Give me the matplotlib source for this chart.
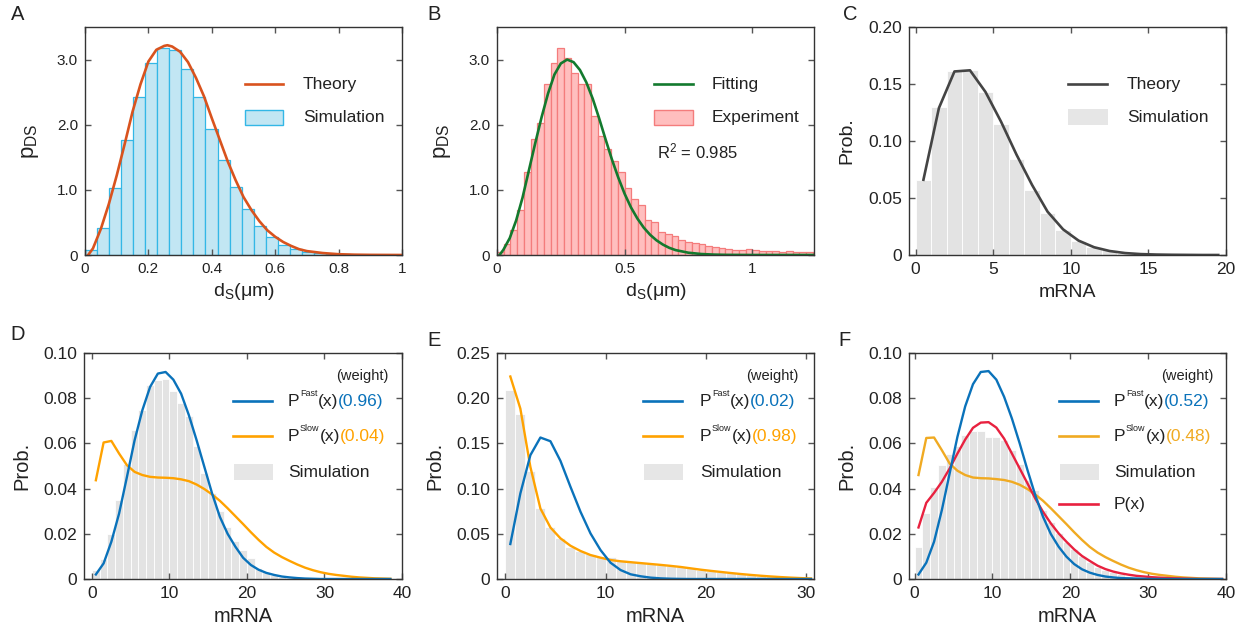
import numpy as np
import matplotlib
matplotlib.use('Agg')
import matplotlib.pyplot as plt
from matplotlib.patches import Rectangle

plt.rcParams['font.family'] = ['Liberation Sans', 'DejaVu Sans']
plt.rcParams['mathtext.fontset'] = 'custom'
plt.rcParams['mathtext.rm'] = 'Liberation Sans'
plt.rcParams['mathtext.default'] = 'regular'

# ---- panel A: distance distribution, simulation vs theory
a_bin_width = 0.038
a_sim = [0.08, 0.42, 1.03, 1.77, 2.43, 2.94, 3.17, 3.15, 2.85, 2.43, 1.94, 1.46,
         1.04, 0.70, 0.45, 0.27, 0.16, 0.09, 0.05, 0.025, 0.015, 0.008, 0.004]
a_theory_x = [0.01, 0.025, 0.05, 0.075, 0.1, 0.125, 0.15, 0.175, 0.2, 0.225, 0.25, 0.26,
              0.275, 0.3, 0.325, 0.35, 0.375, 0.4, 0.425, 0.45, 0.475, 0.5, 0.525, 0.55,
              0.575, 0.6, 0.625, 0.65, 0.675, 0.7, 0.75, 0.8, 0.85, 0.9, 1.0]
a_theory_y = [0.0, 0.10, 0.40, 0.78, 1.22, 1.70, 2.20, 2.62, 2.97, 3.15, 3.21, 3.22,
              3.20, 3.12, 2.96, 2.72, 2.44, 2.10, 1.77, 1.44, 1.15, 0.89, 0.69, 0.52,
              0.38, 0.28, 0.20, 0.14, 0.09, 0.06, 0.03, 0.012, 0.005, 0.002, 0.0]

# ---- panel B: experiment vs fitting
b_bin_width = 0.5 / 19
b_exp = [0.05, 0.17, 0.385, 0.69, 1.27, 1.78, 2.03, 2.62, 2.94, 3.17, 3.03, 2.80,
         2.62, 2.62, 2.14, 1.82, 1.62, 1.44, 1.28, 1.03, 0.86, 0.77, 0.54, 0.51,
         0.36, 0.33, 0.29, 0.23, 0.205, 0.18, 0.164, 0.14, 0.128, 0.10, 0.097, 0.077,
         0.077, 0.09, 0.077, 0.056, 0.056, 0.06, 0.05, 0.056, 0.046, 0.046, 0.046, 0.04]
b_fit_x = [0.01, 0.025, 0.05, 0.075, 0.1, 0.125, 0.15, 0.175, 0.2, 0.225, 0.25, 0.275,
           0.3, 0.325, 0.35, 0.375, 0.4, 0.425, 0.45, 0.475, 0.5, 0.525, 0.55, 0.575,
           0.6, 0.625, 0.65, 0.675, 0.7, 0.75, 0.8, 0.85, 0.9, 1.0, 1.24]
b_fit_y = [0.0, 0.08, 0.26, 0.53, 0.88, 1.30, 1.72, 2.12, 2.48, 2.77, 2.94, 3.0,
           2.96, 2.84, 2.65, 2.40, 2.10, 1.78, 1.47, 1.19, 0.94, 0.73, 0.56, 0.42,
           0.31, 0.225, 0.16, 0.11, 0.075, 0.035, 0.015, 0.006, 0.002, 0.0, 0.0]

# ---- panel C: mRNA, one state
c_sim = [0.066, 0.130, 0.161, 0.162, 0.143, 0.115, 0.084, 0.057, 0.037, 0.022,
         0.0126, 0.0073, 0.004, 0.002, 0.001, 0.0005, 0.0002, 0.0001, 0.0, 0.0]
c_theory = [0.066, 0.129, 0.161, 0.162, 0.143, 0.117, 0.088, 0.0615, 0.038, 0.0225,
            0.0126, 0.0068, 0.0035, 0.0017, 0.0008, 0.0004, 0.0002, 0.0001, 0.0, 0.0]

# ---- panel D
d_sim = [0.004, 0.0088, 0.020, 0.035, 0.051, 0.066, 0.075, 0.086, 0.088, 0.0887,
         0.083, 0.078, 0.072, 0.059, 0.047, 0.038, 0.030, 0.023, 0.017, 0.0128,
         0.0091, 0.0050, 0.0030, 0.0018, 0.001, 0.0006, 0.0003, 0.0002, 0.0001]
d_fast = [0.002, 0.0069, 0.0165, 0.029, 0.045, 0.0614, 0.0747, 0.085, 0.0909, 0.0916,
          0.0882, 0.082, 0.0725, 0.0614, 0.0496, 0.0378, 0.0275, 0.020, 0.0143, 0.0094,
          0.0062, 0.0041, 0.0027, 0.0018, 0.0011, 0.0007, 0.0004, 0.0002, 0.0001, 0.0,
          0.0, 0.0, 0.0, 0.0, 0.0, 0.0, 0.0, 0.0, 0.0]
d_slow = [0.0437, 0.0604, 0.0611, 0.0555, 0.0504, 0.0474, 0.046, 0.0452, 0.0449, 0.0448,
          0.0446, 0.0441, 0.0433, 0.0418, 0.0398, 0.0374, 0.0346, 0.0313, 0.0278, 0.0243,
          0.0207, 0.0173, 0.0142, 0.0117, 0.0097, 0.0080, 0.0064, 0.0050, 0.0039, 0.0030,
          0.0023, 0.0018, 0.0014, 0.0010, 0.0007, 0.0005, 0.0003, 0.0002, 0.0001]
d_weights = ['(0.96)', '(0.04)']

# ---- panel E
e_sim = [0.209, 0.182, 0.120, 0.078, 0.057, 0.0457, 0.0357, 0.0313, 0.0276, 0.0247,
         0.024, 0.021, 0.019, 0.018, 0.017, 0.016, 0.0145, 0.013, 0.0118, 0.0103,
         0.009, 0.0078, 0.0066, 0.0055, 0.0045, 0.0036, 0.0028, 0.0021, 0.0015, 0.001,
         0.0006]
e_fast = [0.0387, 0.0946, 0.137, 0.1565, 0.1524, 0.1307, 0.102, 0.0744, 0.0504, 0.032,
          0.018, 0.0099, 0.0052, 0.003, 0.0015, 0.0007, 0.0003, 0.0001, 0.0, 0.0,
          0.0, 0.0, 0.0, 0.0, 0.0, 0.0, 0.0, 0.0, 0.0, 0.0, 0.0]
e_slow = [0.224, 0.1885, 0.124, 0.078, 0.057, 0.045, 0.0368, 0.031, 0.0265, 0.0236,
          0.021, 0.0196, 0.0186, 0.0176, 0.0166, 0.0156, 0.0145, 0.0133, 0.0118, 0.0103,
          0.009, 0.0078, 0.0066, 0.0055, 0.0045, 0.0036, 0.0028, 0.0021, 0.0015, 0.001,
          0.0006]
e_weights = ['(0.02)', '(0.98)']

# ---- panel F
f_sim = [0.0143, 0.029, 0.0407, 0.0503, 0.0554, 0.059, 0.0635, 0.0654, 0.0654, 0.063,
         0.0628, 0.0613, 0.057, 0.051, 0.0437, 0.0393, 0.0304, 0.0253, 0.0204, 0.0165,
         0.0131, 0.0101, 0.0075, 0.0055, 0.004, 0.003, 0.002, 0.0015, 0.001, 0.0006,
         0.0004, 0.0002, 0.0001]
f_fast = [0.002, 0.0072, 0.0165, 0.0305, 0.0467, 0.0629, 0.0764, 0.0862, 0.0916, 0.092,
          0.0882, 0.0806, 0.071, 0.06, 0.0482, 0.0371, 0.0275, 0.0199, 0.0143, 0.0099,
          0.0066, 0.0043, 0.0028, 0.0018, 0.0011, 0.0007, 0.0004, 0.0003, 0.0002, 0.0001,
          0.0, 0.0, 0.0, 0.0, 0.0, 0.0, 0.0, 0.0, 0.0, 0.0]
f_slow = [0.046, 0.0624, 0.0626, 0.057, 0.0511, 0.0479, 0.046, 0.0449, 0.0446, 0.0445,
          0.0442, 0.0438, 0.0430, 0.0417, 0.0398, 0.0374, 0.0346, 0.0313, 0.0278, 0.0243,
          0.0207, 0.0173, 0.0142, 0.0117, 0.0097, 0.0080, 0.0064, 0.0050, 0.0039, 0.0030,
          0.0023, 0.0018, 0.0014, 0.0010, 0.0007, 0.0005, 0.0003, 0.0002, 0.0001, 0.0]
f_total = [0.0228, 0.0337, 0.0381, 0.043, 0.0489, 0.0555, 0.0617, 0.0669, 0.0692, 0.0694,
           0.067, 0.0621, 0.0555, 0.0489, 0.0423, 0.0356, 0.0297, 0.0246, 0.0202, 0.0165,
           0.0131, 0.0102, 0.008, 0.0059, 0.0044, 0.0033, 0.0025, 0.0019, 0.0014, 0.0011,
           0.0008, 0.0006, 0.0004, 0.0003, 0.0002, 0.0001, 0.0, 0.0, 0.0, 0.0]
f_weights = ['(0.52)', '(0.48)']

# tick labels
a_xticks = [0, 0.2, 0.4, 0.6, 0.8, 1]
a_xlabels = ['0', '0.2', '0.4', '0.6', '0.8', '1']
ds_yticks = [0, 1, 2, 3]
ds_ylabels = ['0', '1.0', '2.0', '3.0']
b_xticks = [0, 0.5, 1]
b_xlabels = ['0', '0.5', '1']
c_xticks = [0, 5, 10, 15, 20]
c_yticks = [0, 0.05, 0.10, 0.15, 0.20]
c_ylabels = ['0', '0.05', '0.10', '0.15', '0.20']
df_xticks = [0, 10, 20, 30, 40]
df_yticks = [0, 0.02, 0.04, 0.06, 0.08, 0.10]
df_ylabels = ['0', '0.02', '0.04', '0.06', '0.08', '0.10']
e_xticks = [0, 10, 20, 30]
e_yticks = [0, 0.05, 0.10, 0.15, 0.20, 0.25]
e_ylabels = ['0', '0.05', '0.10', '0.15', '0.20', '0.25']

BLUE = '#0A72BA'
ORANGE = '#FFA200'
ORANGE_F = '#F0AA22'
RED = '#E8213F'
GRAY_BAR = '#E3E3E3'
TXT = '#222222'

W, H = 1248, 629
fig = plt.figure(figsize=(W / 100, H / 100), dpi=100)

# axes boxes in pixels: left, top, right, bottom
boxes = {
    'A': (85, 27, 402, 255),
    'B': (497, 27, 814, 255),
    'C': (909, 27, 1226, 255),
    'D': (84, 353, 402, 579),
    'E': (497, 353, 814, 579),
    'F': (909, 353, 1226, 579),
}


def make_ax(key, ticksize):
    l, t, r, b = boxes[key]
    ax = fig.add_axes([l / W, 1 - b / H, (r - l) / W, (b - t) / H])
    ax.tick_params(direction='in', top=True, right=True, length=4.5, width=1,
                   color='#555555', labelcolor=TXT, labelsize=ticksize, pad=5)
    for s in ax.spines.values():
        s.set_color('#333333')
        s.set_linewidth(1.0)
        s.set_zorder(5)
    return ax


def frac(key, x, y):
    l, t, r, b = boxes[key]
    return (x - l) / (r - l), (b - y) / (b - t)


def leg_line(ax, key, x0, x1, y, color):
    fx0, fy = frac(key, x0, y)
    fx1, _ = frac(key, x1, y)
    ax.plot([fx0, fx1], [fy, fy], transform=ax.transAxes, color=color, lw=1.9,
            clip_on=False, zorder=6)


def leg_patch(ax, key, x0, x1, y0, y1, fc, ec):
    fx0, fy1 = frac(key, x0, y1)
    fx1, fy0 = frac(key, x1, y0)
    ax.add_patch(Rectangle((fx0, fy1), fx1 - fx0, fy0 - fy1, transform=ax.transAxes,
                           facecolor=fc, edgecolor=ec, lw=1.0, zorder=6))


def leg_text(ax, key, x, y, s, size=12.5):
    fx, fy = frac(key, x, y)
    return ax.text(fx, fy, s, transform=ax.transAxes, ha='left', va='center',
                   fontsize=size, color=TXT, zorder=6)


def sup_entry(ax, key, x, y, sup, wt, col, size=12.5):
    # "P" + tiny superscript + "(x)" + coloured weight
    t1 = leg_text(ax, key, x, y, 'P', size)
    t2 = ax.annotate(sup, xy=(1, 1), xycoords=t1, xytext=(0.3, 3.0),
                     textcoords='offset points', ha='left', va='top',
                     fontsize=6.5, color=TXT)
    t3 = ax.annotate('(x)', xy=(1, 0), xycoords=(t2, t1), ha='left', va='bottom',
                     fontsize=size, color=TXT)
    ax.annotate(wt, xy=(1, 0), xycoords=t3, ha='left', va='bottom',
                fontsize=size, color=col)


def panel_label(key, x, y):
    fig.text(x / W, 1 - y / H, key, fontsize=14.5, color=TXT, ha='center', va='center')


def labels(ax, xlab, ylab, xsize, ysize, xpos, ypos):
    ax.set_xlabel(xlab, fontsize=xsize, color=TXT)
    ax.set_ylabel(ylab, fontsize=ysize, color=TXT)
    ax.xaxis.set_label_coords(0.5, xpos)
    ax.yaxis.set_label_coords(ypos, 0.5)


# ---------------- A
ax = make_ax('A', 11)
a_edges = np.arange(len(a_sim)) * a_bin_width
ax.bar(a_edges, a_sim, width=a_bin_width, align='edge', color='#C2E6F3',
       edgecolor='#33B7E6', lw=0.9)
ax.plot(a_theory_x, a_theory_y, color='#D9531E', lw=1.9)
ax.set_xlim(0, 1)
ax.set_ylim(0, 3.5)
ax.set_xticks(a_xticks, a_xlabels)
ax.set_yticks(ds_yticks, ds_ylabels)
labels(ax, 'd$_{S}$(μm)', 'p$_{DS}$', 14, 16, -0.115, -0.14)
leg_line(ax, 'A', 245, 283, 84, '#D9531E')
leg_text(ax, 'A', 303, 84, 'Theory')
leg_patch(ax, 'A', 245, 283, 110, 125, '#C2E6F3', '#33B7E6')
leg_text(ax, 'A', 303, 117, 'Simulation')
panel_label('A', 18, 15)

# ---------------- B
ax = make_ax('B', 11)
b_edges = np.arange(len(b_exp)) * b_bin_width
ax.bar(b_edges, b_exp, width=b_bin_width, align='edge', color='#FFBEBE',
       edgecolor='#F47C7C', lw=0.9)
ax.plot(b_fit_x, b_fit_y, color='#137A2E', lw=1.9)
ax.set_xlim(0, 1.242)
ax.set_ylim(0, 3.5)
ax.set_xticks(b_xticks, b_xlabels)
ax.set_yticks(ds_yticks, ds_ylabels)
labels(ax, 'd$_{S}$(μm)', 'p$_{DS}$', 14, 16, -0.115, -0.14)
leg_line(ax, 'B', 654, 693, 84, '#137A2E')
leg_text(ax, 'B', 712, 84, 'Fitting')
leg_patch(ax, 'B', 654, 693, 110, 125, '#FFBEBE', '#F47C7C')
leg_text(ax, 'B', 712, 117, 'Experiment')
leg_text(ax, 'B', 657, 151, 'R$^{2}$ = 0.985', size=12)
panel_label('B', 434, 15)

# ---------------- C
ax = make_ax('C', 12.5)
c_x = np.arange(len(c_sim))
ax.bar(c_x, c_sim, width=1, align='edge', color=GRAY_BAR, edgecolor='white', lw=0.6)
ax.plot(c_x + 0.5, c_theory, color='#444444', lw=1.9)
ax.set_xlim(-0.43, 20)
ax.set_ylim(0, 0.2)
ax.set_xticks(c_xticks)
ax.set_yticks(c_yticks, c_ylabels)
labels(ax, 'mRNA', 'Prob.', 14, 14, -0.125, -0.17)
leg_line(ax, 'C', 1068, 1107, 84, '#444444')
leg_text(ax, 'C', 1127, 84, 'Theory')
leg_patch(ax, 'C', 1068, 1108, 109, 125, '#E6E6E6', 'none')
leg_text(ax, 'C', 1127, 117, 'Simulation')
panel_label('C', 850, 15)


def mrna_panel(key, sim, fast, slow, weights, xlim, yticks, ylabels, xticks,
               orange, leg_x0, leg_x1, txt_x, wt_x, total=None):
    ax = make_ax(key, 12.5)
    xs = np.arange(len(sim))
    ax.bar(xs, sim, width=1, align='edge', color=GRAY_BAR, edgecolor='white', lw=0.6)
    ax.plot(np.arange(len(slow)) + 0.5, slow, color=orange, lw=1.7, zorder=3)
    if total is not None:
        ax.plot(np.arange(len(total)) + 0.5, total, color=RED, lw=1.7, zorder=3)
    ax.plot(np.arange(len(fast)) + 0.5, fast, color=BLUE, lw=1.7, zorder=4)
    ax.set_xlim(*xlim)
    ax.set_ylim(yticks[0], yticks[-1])
    ax.set_xticks(xticks)
    ax.set_yticks(yticks, ylabels)
    labels(ax, 'mRNA', 'Prob.', 14.5, 14.5, -0.125, -0.165)

    fx, fy = frac(key, wt_x, 376)
    ax.text(fx, fy, '(weight)', transform=ax.transAxes, ha='right', va='center',
            fontsize=10.5, color=TXT)
    entries = [('Fast', BLUE, weights[0], 401), ('Slow', orange, weights[1], 436)]
    for sup, col, wt, y in entries:
        leg_line(ax, key, leg_x0, leg_x1, y, col)
        sup_entry(ax, key, txt_x, y, sup, wt, col)
    leg_patch(ax, key, leg_x0 + 1, leg_x1 + 1, 464, 480, '#E6E6E6', 'none')
    leg_text(ax, key, txt_x, 472, 'Simulation')
    if total is not None:
        leg_line(ax, key, leg_x0, leg_x1, 504, RED)
        leg_text(ax, key, txt_x, 504, 'P(x)')
    return ax


mrna_panel('D', d_sim, d_fast, d_slow, d_weights, (-1.03, 40), df_yticks, df_ylabels,
           df_xticks, ORANGE, 233, 272, 288, 389)
panel_label('D', 18, 335)

mrna_panel('E', e_sim, e_fast, e_slow, e_weights, (-0.83, 30.8), e_yticks, e_ylabels,
           e_xticks, ORANGE, 643, 682, 700, 799)
panel_label('E', 434, 340)

mrna_panel('F', f_sim, f_fast, f_slow, f_weights, (-0.72, 40), df_yticks, df_ylabels,
           df_xticks, ORANGE_F, 1059, 1098, 1114, 1213, total=f_total)
panel_label('F', 844, 340)

fig.savefig('out.png', dpi=100)
